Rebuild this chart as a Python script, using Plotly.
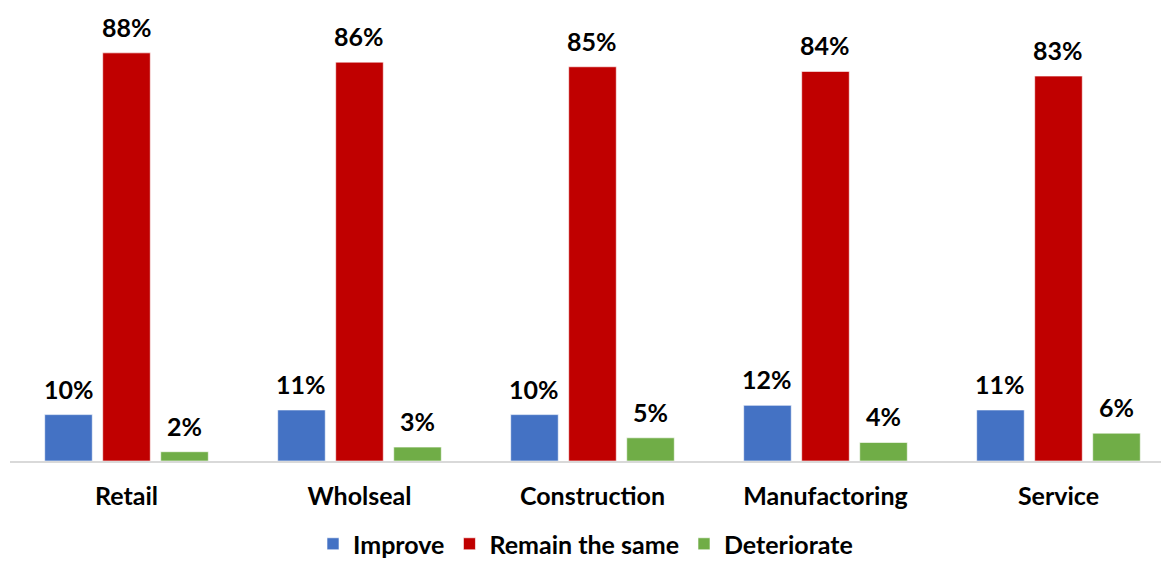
import plotly.graph_objects as go

sectors = ["Retail", "Wholseal", "Construction", "Manufactoring", "Service"]
improve = [10, 11, 10, 12, 11]
remain_same = [88, 86, 85, 84, 83]
deteriorate = [2, 3, 5, 4, 6]

series = [
    ("Improve", improve, "#4472C4"),
    ("Remain the same", remain_same, "#C00000"),
    ("Deteriorate", deteriorate, "#70AD47"),
]

FONT = "Lato"
SIZE = 25
fig = go.Figure()
for name, vals, color in series:
    fig.add_trace(go.Bar(
        name=name, x=sectors, y=vals,
        marker=dict(color=color, line=dict(color="rgba(255,255,255,0.6)", width=1)),
    ))

# value labels above each bar, offset to match the grouped bar positions
offsets = [-58, 0, 58]
for (name, vals, color), dx in zip(series, offsets):
    for cat, v in zip(sectors, vals):
        fig.add_annotation(
            x=cat, y=v, text=f"{v}%", showarrow=False,
            xshift=dx, yshift=9, yanchor="bottom",
            font=dict(family=FONT, size=SIZE, color="#000000", weight="bold"),
        )

fig.update_layout(
    width=1161, height=562,
    margin=dict(l=10, r=0, t=0, b=101),
    paper_bgcolor="white", plot_bgcolor="white",
    barmode="group", bargap=0.253, bargroupgap=0.18,
    font=dict(family=FONT, size=SIZE, color="#000000"),
    showlegend=True,
    legend=dict(
        orientation="h", x=0.5, xanchor="center",
        yref="container", y=0.032, yanchor="middle",
        font=dict(family=FONT, size=SIZE, color="#000000", weight="bold"),
        itemclick=False, traceorder="normal",
    ),
    xaxis=dict(
        range=[-0.5, 4.44], showgrid=False, zeroline=False,
        showline=True, linecolor="#D9D9D9", linewidth=2,
        ticks="", ticklabelstandoff=12,
        tickfont=dict(family=FONT, size=SIZE, color="#000000", weight="bold"),
    ),
    yaxis=dict(
        range=[0, 99.4], showgrid=False, zeroline=False,
        showline=False, showticklabels=False, ticks="",
    ),
)

fig.write_html("out.html")
